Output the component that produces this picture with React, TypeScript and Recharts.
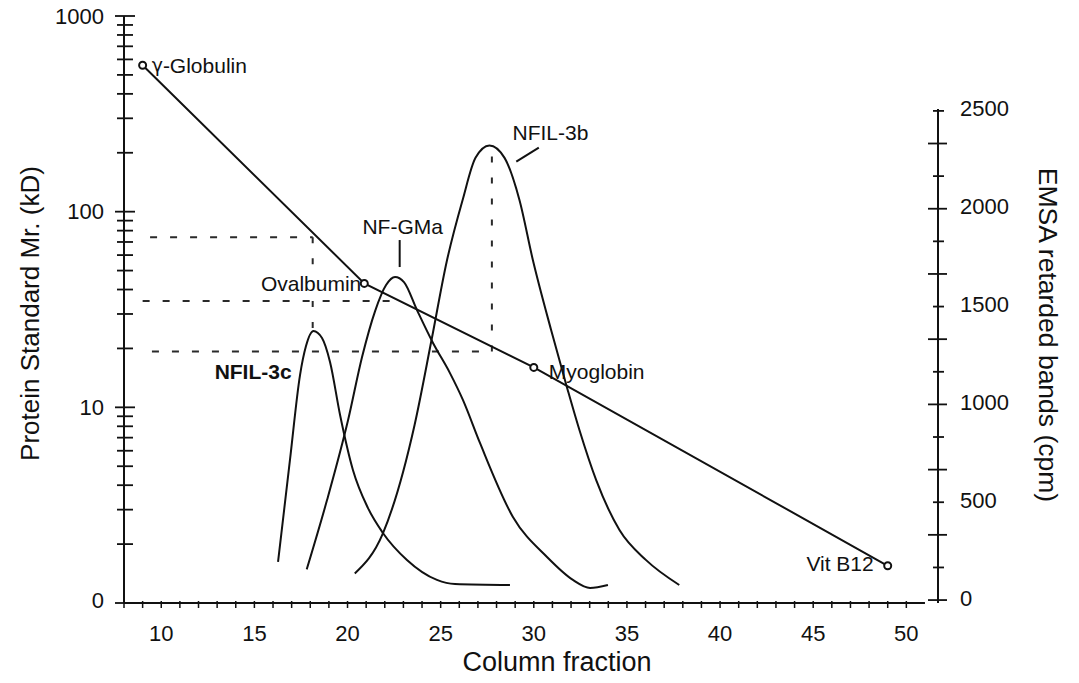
import React from 'react';
import { ComposedChart, Line, XAxis, YAxis, ReferenceLine, ReferenceDot } from 'recharts';

const FONT = '"Liberation Sans", Arial, Helvetica, sans-serif';
const INK = '#111111';

// ---------- data ----------
// Protein standards (left, log axis, kD)
const stdFractions = [9, 20.9, 30, 49];
const stdMW = [560, 43, 16, 1.55];
const stdNames = ['γ-Globulin', 'Ovalbumin', 'Myoglobin', 'Vit B12'];

// EMSA peaks (right axis, cpm)
const nfil3cFractions = [16.27, 16.91, 17.45, 17.77, 18.17, 18.63, 19.06, 19.6, 20.29, 21.1, 21.9, 23.19, 24.8, 25.77, 28.72];
const nfil3cCpm = [195, 716, 1150, 1298, 1375, 1339, 1217, 946, 665, 470, 343, 205, 103, 82, 77];

const nfgmaFractions = [17.81, 18.9, 20.03, 20.78, 21.48, 22.07, 22.55, 23.03, 23.73, 24.59, 25.5, 26.2, 27.11, 28.88, 30.71, 32.1, 33.02, 33.98];
const nfgmaCpm = [157, 511, 920, 1242, 1477, 1610, 1651, 1625, 1482, 1314, 1160, 1022, 803, 425, 220, 103, 62, 77];

const nfil3bFractions = [20.39, 21.9, 23.6, 24.51, 25.32, 26.18, 26.87, 27.62, 28.43, 29.23, 29.95, 30.93, 31.82, 32.45, 33.35, 34.6, 36.03, 37.81];
const nfil3bCpm = [136, 341, 895, 1329, 1728, 2045, 2260, 2323, 2260, 2045, 1738, 1380, 1074, 869, 613, 358, 204, 77];

// Dashed read-off guides (kD on the left axis)
const guideMW = [74, 35, 19.3];
const guideStart = [9.4, 9.0, 9.5];
const guideEnd = [18.13, 22.4, 27.75];
const vGuideFraction = [18.13, 18.13, 27.75];
const vGuideFrom = [74, 35, 19.3];
const vGuideTo = [53.5, 24.4, 207];

// Peak names and where their text sits (fraction, cpm)
const peakNames = ['NFIL-3b', 'NF-GMa', 'NFIL-3c'];
const peakLabelFraction = [28.86, 22.96, 17.0];
const peakLabelCpm = [2388, 1907, 1166];

// Ticks
const xTicks = [8, 9, 10, 11, 12, 13, 14, 15, 16, 17, 18, 19, 20, 21, 22, 23, 24, 25, 26, 27, 28, 29, 30, 31, 32, 33, 34, 35, 36, 37, 38, 39, 40, 41, 42, 43, 44, 45, 46, 47, 48, 49, 50];
const xLabelTicks = [10, 15, 20, 25, 30, 35, 40, 45, 50];
const leftTicks = [1, 2, 3, 4, 5, 6, 7, 8, 9, 10, 20, 30, 40, 50, 60, 70, 80, 90, 100, 200, 300, 400, 500, 600, 700, 800, 900, 1000];
const leftLabelTicks = [1, 10, 100, 1000];
const leftLabelText = ['0', '10', '100', '1000'];
const rightTicks = [0, 166.667, 333.333, 500, 666.667, 833.333, 1000, 1166.667, 1333.333, 1500, 1666.667, 1833.333, 2000, 2166.667, 2333.333, 2500];
const rightLabelTicks = [0, 500, 1000, 1500, 2000, 2500];

// ---------- derived tables ----------
const stdData = stdFractions.map((x, i) => ({ x, y: stdMW[i], name: stdNames[i] }));
const nfil3cData = nfil3cFractions.map((x, i) => ({ x, y: nfil3cCpm[i] }));
const nfgmaData = nfgmaFractions.map((x, i) => ({ x, y: nfgmaCpm[i] }));
const nfil3bData = nfil3bFractions.map((x, i) => ({ x, y: nfil3bCpm[i] }));

// label styling (offsets in px relative to the standard points)
const stdLabelStyle = [
  { dx: 9, dy: 0, anchor: 'start' },
  { dx: -3, dy: 0, anchor: 'end' },
  { dx: 15, dy: 4, anchor: 'start' },
  { dx: -14, dy: -2, anchor: 'end' },
];
const peakLabelStyle = [
  { anchor: 'start', weight: 400 },
  { anchor: 'middle', weight: 400 },
  { anchor: 'end', weight: 700 },
];

const XTick = (props: any) => {
  const { x, y, payload } = props;
  const v = payload.value;
  const lab = xLabelTicks.includes(v);
  return (
    <g>
      <line x1={x} x2={x} y1={y - 2} y2={y + 5} stroke={INK} strokeWidth={1.5} />
      {lab && (
        <text x={x} y={y + 30} textAnchor="middle" dominantBaseline="central" fontSize={22} fontFamily={FONT} fill={INK}>
          {v}
        </text>
      )}
    </g>
  );
};

const LeftTick = (props: any) => {
  const { x, y, payload } = props;
  const v = payload.value;
  const idx = leftLabelTicks.indexOf(v);
  const major = idx >= 0;
  return (
    <g>
      <line x1={x - (major ? 9 : 7)} x2={x + (major ? 11 : 9)} y1={y} y2={y} stroke={INK} strokeWidth={1.8} />
      {major && (
        <text x={x - 20} y={y - (v === 1 ? 3 : 0)} textAnchor="end" dominantBaseline="central" fontSize={22} fontFamily={FONT} fill={INK}>
          {leftLabelText[idx]}
        </text>
      )}
    </g>
  );
};

const RightTick = (props: any) => {
  const { x, y, payload } = props;
  const v = payload.value;
  const i = Math.round((v * 15) / 2500);
  const long = i % 2 === 0;
  const lab = rightLabelTicks.some((t) => Math.abs(t - v) < 0.01);
  return (
    <g>
      <line x1={x - (long ? 10 : 5)} x2={x + (long ? 9 : 6)} y1={y} y2={y} stroke={INK} strokeWidth={1.8} />
      {lab && (
        <text x={x + 22} y={y - 2} textAnchor="start" dominantBaseline="central" fontSize={22} fontFamily={FONT} fill={INK}>
          {Math.round(v)}
        </text>
      )}
    </g>
  );
};

const OpenDot = (props: any) => {
  const { cx, cy, index } = props;
  if (cx == null || cy == null) return <g key={`d-${index}`} />;
  return <circle key={`d-${index}`} cx={cx} cy={cy} r={3.5} fill="#fff" stroke={INK} strokeWidth={2} />;
};

const renderName = (text: string) => {
  if (text.startsWith('γ')) {
    return (
      <>
        <tspan fontFamily='"DejaVu Sans", sans-serif' fontSize={19}>γ</tspan>
        <tspan>{text.slice(1)}</tspan>
      </>
    );
  }
  return text;
};

const makeTextShape = (text: string, dx: number, dy: number, anchor: string, weight: number) => (p: any) => (
  <text
    x={p.cx + dx}
    y={p.cy + dy}
    textAnchor={anchor as any}
    dominantBaseline="central"
    fontSize={21}
    fontWeight={weight}
    fontFamily={FONT}
    fill={INK}
  >
    {renderName(text)}
  </text>
);

const guideStroke = '#2a2a2a';

export default function App() {
  return (
    <div style={{ position: 'absolute', left: 0, top: 0, width: 1079, height: 683, background: '#fff' }}>
      <ComposedChart width={1079} height={683} margin={{ top: 16, right: 0, bottom: 0, left: 0 }}>
        <XAxis
          dataKey="x"
          type="number"
          domain={[8, 51.7]}
          allowDataOverflow
          ticks={xTicks}
          interval={0}
          tick={<XTick />}
          tickLine={false}
          tickSize={0}
          tickMargin={0}
          axisLine={false}
          height={80}
          label={(p: any) => {
            const vb = p.viewBox || {};
            return (
              <text x={vb.x + vb.width / 2 + 26} y={vb.y + 59} textAnchor="middle" dominantBaseline="central" fontSize={27} fontFamily={FONT} fill={INK}>
                Column fraction
              </text>
            );
          }}
        />
        <YAxis
          yAxisId="left"
          type="number"
          scale="log"
          domain={[1, 1000]}
          allowDataOverflow
          ticks={leftTicks}
          interval={0}
          tick={<LeftTick />}
          tickLine={false}
          tickSize={0}
          tickMargin={0}
          axisLine={{ stroke: INK, strokeWidth: 2 }}
          width={124}
          label={(p: any) => {
            const vb = p.viewBox || {};
            const cx = vb.x + 30;
            const cy = vb.y + vb.height / 2 + 4;
            return (
              <text x={cx} y={cy} transform={`rotate(-90 ${cx} ${cy})`} textAnchor="middle" dominantBaseline="central" fontSize={26} fontFamily={FONT} fill={INK}>
                Protein Standard Mr. (kD)
              </text>
            );
          }}
        />
        <YAxis
          yAxisId="right"
          orientation="right"
          type="number"
          domain={[-15, 2985]}
          allowDataOverflow
          ticks={rightTicks}
          interval={0}
          tick={<RightTick />}
          tickLine={false}
          tickSize={0}
          tickMargin={0}
          axisLine={false}
          width={141}
          label={(p: any) => {
            const vb = p.viewBox || {};
            const cx = vb.x + 110;
            const cy = 335;
            return (
              <text x={cx} y={cy} transform={`rotate(90 ${cx} ${cy})`} textAnchor="middle" dominantBaseline="central" fontSize={26.5} fontFamily={FONT} fill={INK}>
                EMSA retarded bands (cpm)
              </text>
            );
          }}
        />

        {/* axis lines drawn as segments (x axis stops short of the right axis) */}
        <ReferenceLine yAxisId="left" segment={[{ x: 8, y: 1 }, { x: 51, y: 1 }]} stroke={INK} strokeWidth={2} ifOverflow="visible" />
        <ReferenceLine yAxisId="right" segment={[{ x: 51.7, y: -15 }, { x: 51.7, y: 2510 }]} stroke={INK} strokeWidth={2} ifOverflow="visible" />

        {/* dashed guides */}
        {guideMW.map((m, i) => (
          <ReferenceLine
            key={`h${i}`}
            yAxisId="left"
            segment={[{ x: guideStart[i], y: m }, { x: guideEnd[i], y: m }]}
            stroke={guideStroke}
            strokeWidth={2}
            strokeDasharray="7 13"
            ifOverflow="visible"
          />
        ))}
        {vGuideFraction.map((f, i) => (
          <ReferenceLine
            key={`v${i}`}
            yAxisId="left"
            segment={[{ x: f, y: vGuideFrom[i] }, { x: f, y: vGuideTo[i] }]}
            stroke={guideStroke}
            strokeWidth={2}
            strokeDasharray="6 15"
            ifOverflow="visible"
          />
        ))}

        {/* label pointers */}
        <ReferenceLine yAxisId="right" segment={[{ x: 22.8, y: 1840 }, { x: 22.8, y: 1702 }]} stroke={INK} strokeWidth={2} ifOverflow="visible" />
        <ReferenceLine yAxisId="right" segment={[{ x: 29.06, y: 2241 }, { x: 30.27, y: 2312 }]} stroke={INK} strokeWidth={2} ifOverflow="visible" />

        <Line yAxisId="right" data={nfil3cData} dataKey="y" type="monotone" stroke={INK} strokeWidth={2} dot={false} activeDot={false} isAnimationActive={false} />
        <Line yAxisId="right" data={nfgmaData} dataKey="y" type="monotone" stroke={INK} strokeWidth={2} dot={false} activeDot={false} isAnimationActive={false} />
        <Line yAxisId="right" data={nfil3bData} dataKey="y" type="monotone" stroke={INK} strokeWidth={2} dot={false} activeDot={false} isAnimationActive={false} />
        <Line yAxisId="left" data={stdData} dataKey="y" type="linear" stroke={INK} strokeWidth={2} dot={(p: any) => <OpenDot {...p} />} activeDot={false} isAnimationActive={false} />

        {/* standard names */}
        {stdData.map((d, i) => (
          <ReferenceDot
            key={`sl${i}`}
            yAxisId="left"
            x={d.x}
            y={d.y}
            r={0}
            ifOverflow="visible"
            shape={makeTextShape(d.name, stdLabelStyle[i].dx, stdLabelStyle[i].dy, stdLabelStyle[i].anchor, 400)}
          />
        ))}
        {/* peak names */}
        {peakNames.map((n, i) => (
          <ReferenceDot
            key={`pl${i}`}
            yAxisId="right"
            x={peakLabelFraction[i]}
            y={peakLabelCpm[i]}
            r={0}
            ifOverflow="visible"
            shape={makeTextShape(n, 0, 0, peakLabelStyle[i].anchor, peakLabelStyle[i].weight)}
          />
        ))}
      </ComposedChart>
    </div>
  );
}
